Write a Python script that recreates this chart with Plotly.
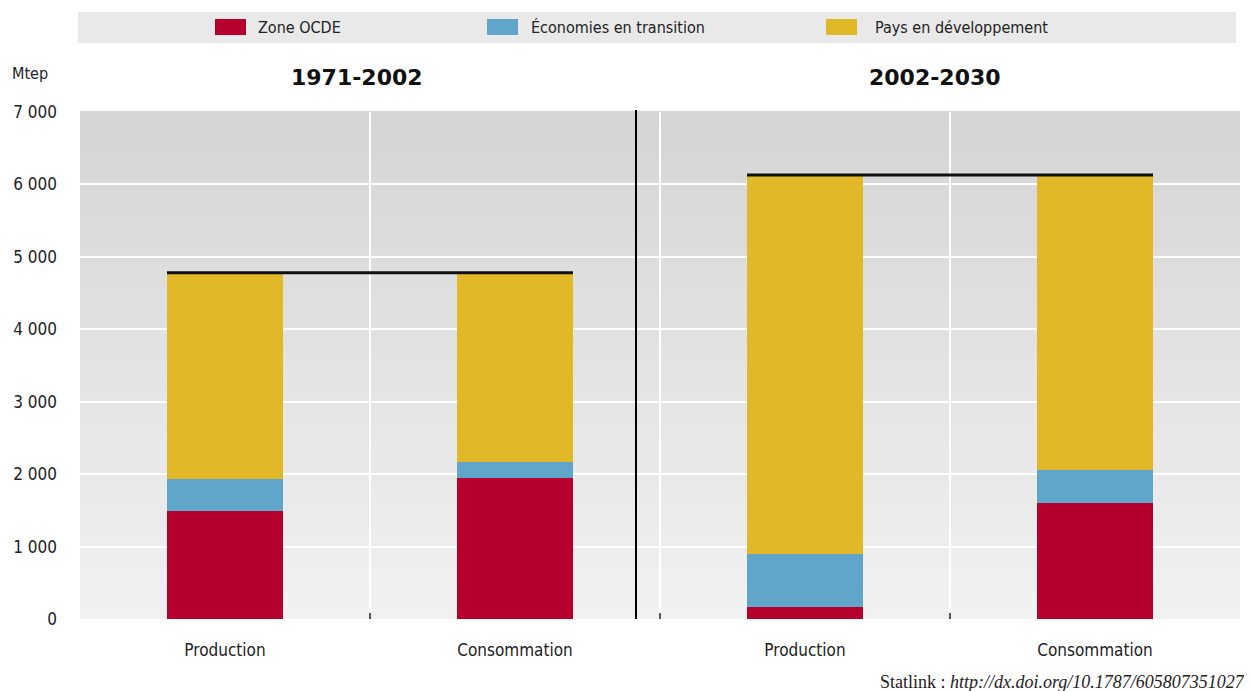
import plotly.graph_objects as go

# ---------------- data ----------------
categories = ["Production", "Consommation", "Production", "Consommation"]
periods = ["1971-2002", "2002-2030"]
series_names = ["Zone OCDE", "Économies en transition", "Pays en développement"]
ocde = [1490, 1950, 165, 1600]
transition = [440, 220, 735, 460]
developing = [2850, 2610, 5230, 4070]
y_tickvals = [0, 1000, 2000, 3000, 4000, 5000, 6000, 7000]
y_ticktext = ["0", "1 000", "2 000", "3 000", "4 000", "5 000", "6 000", "7 000"]
unit_label = "Mtep"
source_text = "Statlink : <i>http://dx.doi.org/10.1787/605807351027</i>"

# ---------------- style ----------------
colors = ["#B5002D", "#60A5CA", "#E1B928"]
FONT = "Liberation Sans Narrow, DejaVu Sans Condensed, Roboto Condensed, Arial Narrow, sans-serif"
PAGE_W, PAGE_H = 1252, 691
OFF = 8  # page body margin
W, H = PAGE_W - OFF, PAGE_H - OFF
L, R, T, B = 80, 1240, 112, 619   # plot area in page pixels
BAR_W = 0.4


def px(x):
    return (x - L) / (R - L)


def py(y):
    return (B - y) / (B - T)


xpos = list(range(len(categories)))
fig = go.Figure()
for name, vals, col in zip(series_names, [ocde, transition, developing], colors):
    fig.add_trace(go.Bar(x=xpos, y=vals, name=name, width=BAR_W,
                         marker=dict(color=col, line=dict(width=0)),
                         showlegend=False))

# total lines across each panel
totals = [a + b + c for a, b, c in zip(ocde, transition, developing)]
for p in range(len(periods)):
    i0, i1 = 2 * p, 2 * p + 1
    fig.add_trace(go.Scatter(x=[xpos[i0] - BAR_W / 2, xpos[i1] + BAR_W / 2],
                             y=[totals[i0], totals[i1]], mode="lines",
                             line=dict(color="#111111", width=3),
                             showlegend=False, hoverinfo="skip"))

shapes = []
# gradient background
n = 60
c_top, c_bot = 213, 241
for k in range(n):
    t = k / (n - 1)
    c = round(c_bot + (c_top - c_bot) * t)
    shapes.append(dict(type="rect", xref="paper", yref="paper",
                       x0=0, x1=1, y0=k / n, y1=(k + 1) / n + 0.002,
                       fillcolor=f"rgb({c},{c},{c})", line=dict(width=0),
                       layer="below"))
# panel separator
shapes.append(dict(type="line", xref="paper", yref="paper",
                   x0=px(636), x1=px(636), y0=0, y1=py(110),
                   line=dict(color="#000000", width=2)))
# legend background
shapes.append(dict(type="rect", xref="paper", yref="paper",
                   x0=px(78), x1=px(1236), y0=py(43), y1=py(12),
                   fillcolor="#E9E9E9", line=dict(width=0)))

annotations = []
sw_x = [215, 487, 826]
tx_x = [256, 529, 873]
for name, col, sx, tx in zip(series_names, colors, sw_x, tx_x):
    shapes.append(dict(type="rect", xref="paper", yref="paper",
                       x0=px(sx), x1=px(sx + 31), y0=py(35), y1=py(19),
                       fillcolor=col, line=dict(width=0)))
    annotations.append(dict(text=name, xref="paper", yref="paper",
                            x=px(tx), y=py(27), xanchor="left", yanchor="middle",
                            showarrow=False, font=dict(family=FONT, size=16, color="#222")))

for title, cx in zip(periods, [357, 935]):
    annotations.append(dict(text=f"<b>{title}</b>", xref="paper", yref="paper",
                            x=px(cx), y=py(77), xanchor="center", yanchor="middle",
                            showarrow=False,
                            font=dict(family="DejaVu Sans, sans-serif", size=22, color="#111")))

annotations.append(dict(text=unit_label, xref="paper", yref="paper",
                        x=px(10), y=py(73), xanchor="left", yanchor="middle",
                        showarrow=False, font=dict(family=FONT, size=16, color="#222")))
annotations.append(dict(text=source_text, xref="paper", yref="paper",
                        x=px(1247), y=py(682), xanchor="right", yanchor="middle",
                        showarrow=False,
                        font=dict(family="Liberation Serif, DejaVu Serif, serif", size=18, color="#222")))

fig.update_layout(
    width=W, height=H,
    margin=dict(l=L - OFF, r=PAGE_W - R, t=T - OFF, b=PAGE_H - B, pad=0, autoexpand=False),
    barmode="stack",
    paper_bgcolor="white",
    plot_bgcolor="#E4E4E4",
    showlegend=False,
    shapes=shapes,
    annotations=annotations,
    font=dict(family=FONT, size=17, color="#222"),
    xaxis=dict(range=[-0.5, len(categories) - 0.5], tickmode="array",
               tickvals=xpos, ticktext=categories, showgrid=False,
               zeroline=False, showline=False, ticks="", automargin=False,
               ticklabelstandoff=19,
               tickfont=dict(family=FONT, size=17, color="#222"),
               minor=dict(tickmode="array", tickvals=[0.5, 1.5, 2.5],
                          showgrid=True, gridcolor="white", gridwidth=2,
                          ticks="inside", ticklen=6, tickwidth=1.5,
                          tickcolor="#555555")),
    yaxis=dict(range=[0, 7000], tickmode="array", tickvals=y_tickvals,
               ticktext=y_ticktext, showgrid=True, gridcolor="white",
               gridwidth=2, zeroline=False, showline=False, ticks="",
               automargin=False, ticklabelstandoff=22,
               tickfont=dict(family=FONT, size=17, color="#222")),
)

fig.write_html("out.html")
